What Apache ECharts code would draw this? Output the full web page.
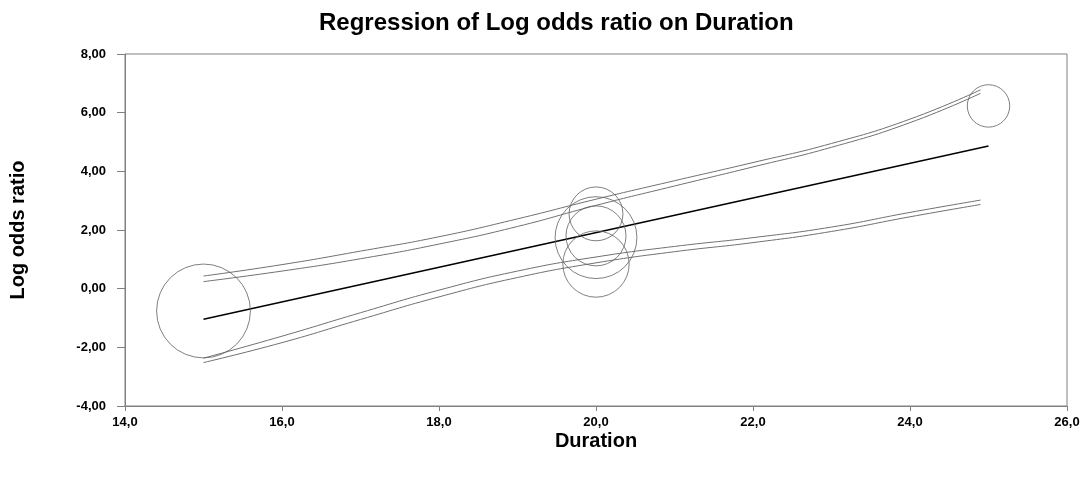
<!DOCTYPE html>
<html>
<head>
<meta charset="utf-8">
<title>Regression of Log odds ratio on Duration</title>
<script src="https://cdn.jsdelivr.net/npm/echarts@6/dist/echarts.min.js"></script>
<style>
    html, body {
        margin: 0;
        padding: 0;
        background: #ffffff;
    }

    #chart {
        width: 1083px;
        height: 481px;
    }
</style>
</head>
<body>
<div id="chart"></div>
<script>
    // studies (bubbles): duration, log odds ratio, relative weight
    var studyX = [15, 20, 20, 20, 20, 25];
    var studyY = [-0.76, 2.55, 1.74, 1.80, 0.84, 6.23];
    var studyWeight = [88, 29, 67, 36, 44, 18];

    // regression line
    var regX = [15, 25];
    var regY = [-1.04, 4.86];

    // confidence curves
    var ciX = [15, 16, 17, 18, 19, 20, 21, 22, 23, 24, 24.9];
    var upperOuter = [0.43, 0.82, 1.28, 1.77, 2.38, 3.05, 3.68, 4.30, 4.95, 5.78, 6.78];
    var upperInner = [0.24, 0.60, 1.02, 1.52, 2.12, 2.84, 3.50, 4.15, 4.82, 5.66, 6.66];
    var lowerInner = [-2.37, -1.62, -0.82, -0.05, 0.60, 1.08, 1.44, 1.74, 2.10, 2.60, 3.02];
    var lowerOuter = [-2.52, -1.84, -1.05, -0.28, 0.38, 0.88, 1.26, 1.57, 1.95, 2.45, 2.87];

    var font = '"Liberation Sans", Arial, sans-serif';

    function pairs(xs, ys) {
        var out = [];
        for (var i = 0; i < xs.length; i++) {
            out.push([xs[i], ys[i]]);
        }
        return out;
    }

    function ciLine(ys) {
        return {
            type: 'line',
            data: pairs(ciX, ys),
            smooth: true,
            showSymbol: false,
            lineStyle: {color: '#707070', width: 1},
            z: 2
        };
    }

    var bubbles = [];
    for (var i = 0; i < studyX.length; i++) {
        bubbles.push([studyX[i], studyY[i], studyWeight[i]]);
    }

    var myChart = echarts.init(document.getElementById('chart'));

    myChart.setOption({
        animation: false,
        title: {
            text: 'Regression of Log odds ratio on Duration',
            left: 314,
            top: 6,
            textStyle: {fontFamily: font, fontSize: 24, fontWeight: 'bold', color: '#000'}
        },
        grid: {
            left: 125,
            right: 16,
            top: 54,
            bottom: 75,
            outerBoundsMode: 'none',
            containLabel: false,
            show: true,
            borderColor: '#808080',
            borderWidth: 1
        },
        xAxis: {
            type: 'value',
            min: 14,
            max: 26,
            interval: 2,
            name: 'Duration',
            nameLocation: 'middle',
            nameGap: 25,
            nameMoveOverlap: false,
            nameTextStyle: {fontFamily: font, fontSize: 20, fontWeight: 'bold', color: '#000'},
            axisLine: {show: true, onZero: false, lineStyle: {color: '#808080'}},
            axisTick: {show: true, length: 5, lineStyle: {color: '#808080'}},
            splitLine: {show: false},
            axisLabel: {
                fontFamily: font, fontSize: 13, fontWeight: 'bold', color: '#000', margin: 10,
                formatter: function (v) {
                    return v.toFixed(1).replace('.', ',');
                }
            }
        },
        yAxis: {
            type: 'value',
            min: -4,
            max: 8,
            interval: 2,
            name: 'Log odds ratio',
            nameLocation: 'middle',
            nameGap: 97,
            nameMoveOverlap: false,
            nameRotate: 90,
            nameTextStyle: {fontFamily: font, fontSize: 20, fontWeight: 'bold', color: '#000'},
            axisLine: {show: true, onZero: false, lineStyle: {color: '#808080'}},
            axisTick: {show: true, length: 8, lineStyle: {color: '#808080'}},
            splitLine: {show: false},
            axisLabel: {
                fontFamily: font, fontSize: 13, fontWeight: 'bold', color: '#000', margin: 19,
                formatter: function (v) {
                    return v.toFixed(2).replace('.', ',');
                }
            }
        },
        series: [
            ciLine(upperOuter),
            ciLine(upperInner),
            ciLine(lowerInner),
            ciLine(lowerOuter),
            {
                type: 'line',
                data: pairs(regX, regY),
                showSymbol: false,
                lineStyle: {color: '#000', width: 1.5},
                z: 3
            },
            {
                type: 'scatter',
                data: bubbles,
                symbol: 'circle',
                symbolSize: function (d) {
                    return 10 * Math.sqrt(d[2]);
                },
                itemStyle: {color: 'rgba(0,0,0,0)', borderColor: '#606060', borderWidth: 1},
                z: 4
            }
        ]
    });
</script>
</body>
</html>
